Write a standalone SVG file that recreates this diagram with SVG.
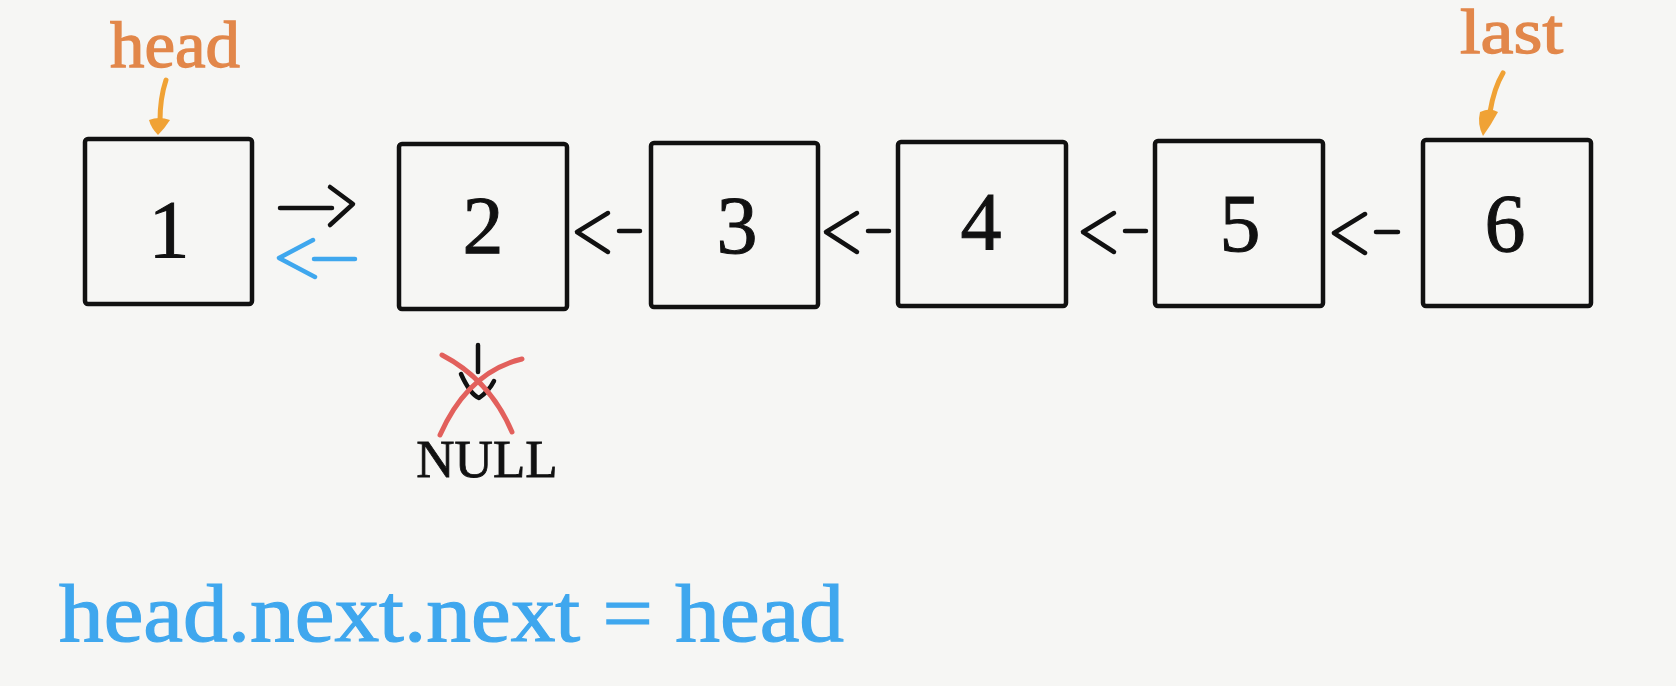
<svg xmlns="http://www.w3.org/2000/svg" width="1676" height="686" viewBox="0 0 1676 686">
<defs>
<style>
.box{fill:none;stroke:#111;stroke-width:4.5;}
.num{font-family:"Liberation Serif","DejaVu Serif",serif;font-size:82px;fill:#111;stroke:#111;stroke-width:1;text-anchor:middle;}
.lbl{font-family:"Liberation Serif","DejaVu Serif",serif;fill:#E2874A;stroke:#E2874A;stroke-width:1.3;}
.con{fill:none;stroke:#111;stroke-width:4.5;stroke-linecap:round;stroke-linejoin:round;}
.blue{stroke:#3FA7EE;}
.ptr{fill:none;stroke:#F0A235;stroke-width:5;stroke-linecap:round;}
.ptrhead{fill:#F0A235;}
.cross{fill:none;stroke:#E2605C;stroke-width:5;stroke-linecap:round;}
</style>
</defs>
<rect x="0" y="0" width="1676" height="686" fill="#F6F6F4"/>

<g id="node-1">
<rect class="box" x="85" y="139" width="167" height="165" rx="3"/>
<text class="num" x="169" y="257">1</text>
</g>
<g id="node-2">
<rect class="box" x="399" y="144" width="168" height="165" rx="3"/>
<text class="num" x="483" y="253">2</text>
</g>
<g id="node-3">
<rect class="box" x="651" y="143" width="167" height="164" rx="3"/>
<text class="num" x="737" y="253">3</text>
</g>
<g id="node-4">
<rect class="box" x="898" y="142" width="168" height="164" rx="3"/>
<text class="num" x="981" y="249">4</text>
</g>
<g id="node-5">
<rect class="box" x="1155" y="141" width="168" height="165" rx="3"/>
<text class="num" x="1240" y="251">5</text>
</g>
<g id="node-6">
<rect class="box" x="1423" y="140" width="168" height="166" rx="3"/>
<text class="num" x="1505" y="251">6</text>
</g>

<g id="label-head">
<text class="lbl" x="110" y="67" font-size="66" textLength="130" lengthAdjust="spacingAndGlyphs">head</text>
<path class="ptr" d="M166,80 Q160,98 160,121"/>
<path class="ptrhead" d="M149,120 Q159,116 170,120 Q165,128 158,135 Q151,128 149,120 Z"/>
</g>
<g id="label-last">
<text class="lbl" x="1460" y="53" font-size="63" textLength="103" lengthAdjust="spacingAndGlyphs">last</text>
<path class="ptr" d="M1503,73 Q1494,88 1490,112"/>
<path class="ptrhead" d="M1480,112 Q1490,107 1498,112 Q1491,125 1483,136 Q1477,124 1480,112 Z"/>
</g>

<g id="null">
<text x="487" y="477" font-family="Liberation Serif, DejaVu Serif, serif" font-size="53" fill="#111" stroke="#111" stroke-width="0.8" text-anchor="middle">NULL</text>
</g>

<g id="connectors">
<!-- 1 -> 2 -->
<path class="con" d="M280,208 L332,208 M330,187 L353,204 L330,225"/>
<!-- 2 -> 1 (blue) -->
<path class="con blue" d="M313,240 L279,258 L315,277 M314,259 L355,259"/>
<!-- 3 -> 2 -->
<path class="con" d="M608,213 L577,232 L608,252 M619,231 L640,231"/>
<!-- 4 -> 3 -->
<path class="con" d="M857,213 L826,232 L857,252 M868,231 L889,231"/>
<!-- 5 -> 4 -->
<path class="con" d="M1114,213 L1083,232 L1114,252 M1125,231 L1146,231"/>
<!-- 6 -> 5 -->
<path class="con" d="M1365,214 L1334,233 L1365,253 M1376,232 L1398,232"/>
<!-- 2 -> NULL -->
<path class="con" d="M478,345 L478,372 M461,374 Q470,394 479,398 Q489,391 494,381"/>
<!-- cross -->
<path class="cross" d="M442,355 Q490,380 512,432"/>
<path class="cross" d="M522,359 Q468,372 440,435"/>
</g>

<g id="caption">
<text x="59" y="641" font-family="Liberation Serif, DejaVu Serif, serif" font-size="82" fill="#3FA7EE" stroke="#3FA7EE" stroke-width="1.2" textLength="785" lengthAdjust="spacingAndGlyphs">head.next.next = head</text>
</g>
</svg>
